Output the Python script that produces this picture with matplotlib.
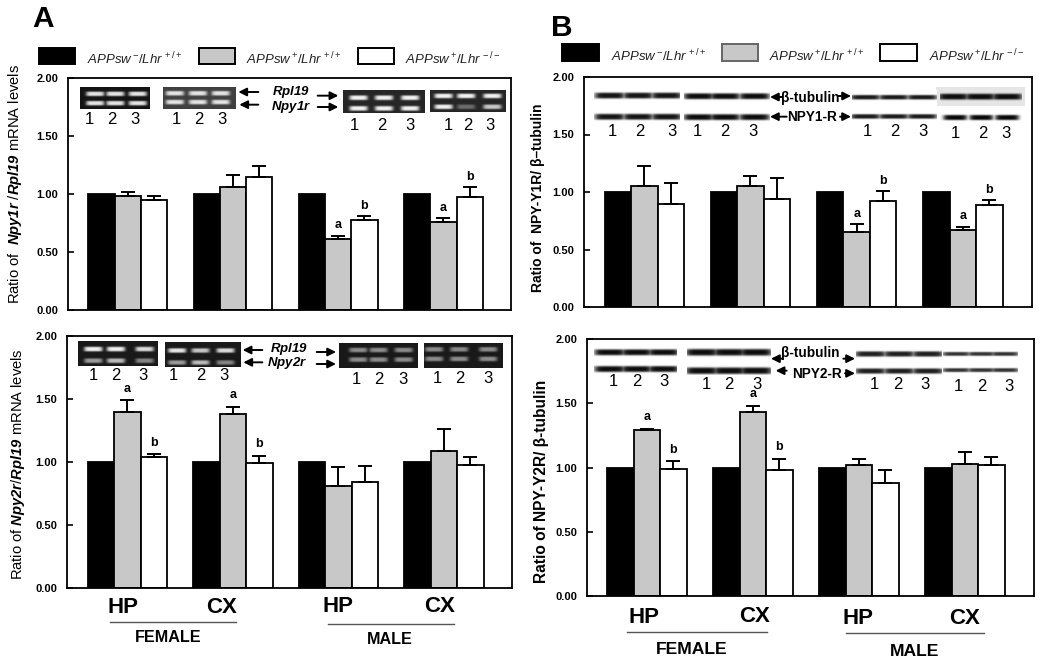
from __future__ import annotations

import matplotlib

matplotlib.use("Agg")
import matplotlib.pyplot as plt
import numpy as np
from matplotlib.patches import Rectangle

plt.rcParams["font.family"] = ["Liberation Sans", "DejaVu Sans"]
plt.rcParams["mathtext.fontset"] = "custom"
plt.rcParams["mathtext.rm"] = "Liberation Sans"
plt.rcParams["mathtext.it"] = "Liberation Sans:italic"
plt.rcParams["mathtext.bf"] = "Liberation Sans:bold"
plt.rcParams["mathtext.bfit"] = "Liberation Sans:italic:bold"

W, H = 1050, 669
GRAY = "#c8c8c8"

regions = ["HP", "CX", "HP", "CX"]

a1_gray = [0.98, 1.06, 0.61, 0.76]
a1_white = [0.95, 1.15, 0.78, 0.97]
a1_gray_err = [0.04, 0.10, 0.03, 0.03]
a1_white_err = [0.03, 0.09, 0.03, 0.09]
a1_marks = [("", ""), ("", ""), ("a", "b"), ("a", "b")]

a2_gray = [1.40, 1.38, 0.81, 1.09]
a2_white = [1.04, 0.99, 0.84, 0.98]
a2_gray_err = [0.09, 0.06, 0.15, 0.17]
a2_white_err = [0.02, 0.06, 0.13, 0.06]
a2_marks = [("a", "b"), ("a", "b"), ("", ""), ("", "")]

b1_gray = [1.05, 1.05, 0.65, 0.67]
b1_white = [0.90, 0.94, 0.92, 0.89]
b1_gray_err = [0.18, 0.09, 0.07, 0.03]
b1_white_err = [0.18, 0.18, 0.09, 0.04]
b1_marks = [("", ""), ("", ""), ("a", "b"), ("a", "b")]

b2_gray = [1.29, 1.43, 1.02, 1.03]
b2_white = [0.99, 0.98, 0.88, 1.02]
b2_gray_err = [0.01, 0.05, 0.05, 0.09]
b2_white_err = [0.06, 0.09, 0.10, 0.06]
b2_marks = [("a", "b"), ("a", "b"), ("", ""), ("", "")]

control = [1.0, 1.0, 1.0, 1.0]
y_ticks = [0.0, 0.5, 1.0, 1.5, 2.0]

fig = plt.figure(figsize=(W / 100, H / 100), dpi=100)


def panel(box, first_bar, step, width, gray, white, gray_err, white_err, marks):
    left, top, right, bottom = box
    ax = fig.add_axes([left / W, 1 - bottom / H, (right - left) / W, (bottom - top) / H])
    centre = first_bar + 1.5 * width
    ax.set_xlim((left - centre) / step, (right - centre) / step)
    ax.set_ylim(0, 2)
    w = width / step
    x = np.arange(len(gray))
    ax.bar(x - w, control, w, color="black", edgecolor="black", linewidth=1.3)
    ax.bar(x, gray, w, color=GRAY, edgecolor="black", linewidth=1.3)
    ax.bar(x + w, white, w, color="white", edgecolor="black", linewidth=1.3)
    for offset, vals, errs in [(0, gray, gray_err), (w, white, white_err)]:
        ax.errorbar(x + offset, vals, yerr=[np.zeros(len(vals)), errs], fmt="none",
                    ecolor="black", elinewidth=1.4, capsize=5, capthick=1.4)
    for i, (m1, m2) in enumerate(marks):
        if m1:
            ax.text(i, gray[i] + gray_err[i] + 0.09, m1, ha="center", va="center",
                    fontsize=9, fontweight="bold")
        if m2:
            ax.text(i + w, white[i] + white_err[i] + 0.09, m2, ha="center", va="center",
                    fontsize=9, fontweight="bold")
    ax.set_xticks([])
    ax.set_yticks(y_ticks)
    ax.set_yticklabels([f"{t:.2f}" for t in y_ticks], fontsize=8, fontweight="bold")
    ax.tick_params(axis="y", direction="in", length=4, width=1.2, pad=7)
    for spine in ax.spines.values():
        spine.set_linewidth(1.3)
    return ax


panel((68, 78, 511, 310), 88.3, 105.2, 26.3, a1_gray, a1_white, a1_gray_err, a1_white_err, a1_marks)
panel((67, 336, 512, 588), 87.5, 105.5, 26.5, a2_gray, a2_white, a2_gray_err, a2_white_err, a2_marks)
panel((584, 77, 1032, 307), 604.5, 106.2, 26.5, b1_gray, b1_white, b1_gray_err, b1_white_err, b1_marks)
panel((587, 339, 1034, 596), 607, 106, 26.5, b2_gray, b2_white, b2_gray_err, b2_white_err, b2_marks)

# overlay in image pixels for legends, gels and group labels
ov = fig.add_axes([0, 0, 1, 1], facecolor="none")
ov.set_xlim(0, W)
ov.set_ylim(H, 0)
ov.axis("off")


def gel(ox, oy, box, lanes, rows, bg, ink, lane_w=55, thick=7, levels=None):
    # box and lanes are in the 3x crop coordinates
    x0, y0, x1, y1 = box
    xs = np.arange(x0, x1, 1.0)
    ys = np.arange(y0, y1, 1.0)
    img = np.zeros((len(ys), len(xs)))
    for r, row in enumerate(rows):
        prof_y = np.exp(-(((ys - row) / thick) ** 4))
        for l, lane in enumerate(lanes):
            prof_x = np.exp(-(((xs - lane) / (lane_w / 2)) ** 6))
            level = 1.0 if levels is None else levels[r][l]
            img = np.maximum(img, level * np.outer(prof_y, prof_x))
    ov.imshow(bg + (ink - bg) * img, cmap="gray", vmin=0, vmax=1, aspect="auto", zorder=3,
              extent=(ox + x0 / 3, ox + x1 / 3, oy + y1 / 3, oy + y0 / 3), interpolation="bilinear")


def lane_numbers(ox, oy, xs, y, size=12):
    for label, x in zip("123", xs):
        ov.text(ox + x / 3, oy + y / 3, label, ha="center", va="center", fontsize=size, zorder=4)


def arrow(ox, oy, x0, x1, y, lw=1.4):
    ov.annotate("", xy=(ox + x1 / 3, oy + y / 3), xytext=(ox + x0 / 3, oy + y / 3), zorder=4,
                arrowprops=dict(arrowstyle="-|>", color="black", lw=lw, mutation_scale=12,
                                shrinkA=0, shrinkB=0))


def legend(ox, oy, boxes, texts, top, bottom, text_y, gray_edge):
    fills = ["black", GRAY, "white"]
    edges = ["black", gray_edge, "black"]
    for (x0, x1), tx, label, fc, ec in zip(boxes, texts, legend_labels, fills, edges):
        ov.add_patch(Rectangle((ox + x0 / 3, oy + top / 3), (x1 - x0) / 3, (bottom - top) / 3,
                               facecolor=fc, edgecolor=ec, linewidth=1.4, zorder=3))
        ov.text(ox + tx / 3, oy + text_y / 3, label, ha="left", va="center", fontsize=9.5,
                color="#222222", zorder=4)


def groups(ox, oy, labels_x, labels_y, lines, line_y, sex_x, sex_y, sex_size=11.6):
    for x, y, label in zip(labels_x, labels_y, regions):
        ov.text(ox + x / 3, oy + y / 3, label, ha="center", va="center", fontsize=16,
                fontweight="bold", zorder=4)
    for (x0, x1), y in zip(lines, line_y):
        ov.plot([ox + x0 / 3, ox + x1 / 3], [oy + y / 3, oy + y / 3], color="#555555", lw=1.0, zorder=4)
    for x, y, label in zip(sex_x, sex_y, ["FEMALE", "MALE"]):
        ov.text(ox + x / 3, oy + y / 3, label, ha="center", va="center", fontsize=sex_size,
                fontweight="bold", zorder=4)


legend_labels = [
    r"$\mathit{APPsw}\,^{-}/\mathit{Lhr}^{\,+/+}$",
    r"$\mathit{APPsw}\,^{+}/\mathit{Lhr}^{\,+/+}$",
    r"$\mathit{APPsw}\,^{+}/\mathit{Lhr}^{\,-/-}$",
]

# panel A, top
ov.text(43, 19, "A", ha="center", va="center", fontsize=21.5, fontweight="bold")
legend(0, 0, [(118, 225), (596, 704), (1074, 1182)], [260, 738, 1216], 143, 191, 176, "black")
ov.text(15, 184, r"$\mathrm{Ratio\ of}\ \ \mathbfit{Npy1r}\ /\mathbfit{Rpl19}\ \mathrm{mRNA\ levels}$",
        rotation=90, ha="center", va="center", fontsize=10.6)
gel(0, 0, (240, 262, 449, 328), [285, 345, 412], [282, 310], 0.08, 0.9)
gel(0, 0, (488, 262, 706, 327), [523, 592, 660], [280, 306], 0.25, 0.9)
gel(0, 0, (1030, 271, 1275, 338), [1076, 1152, 1230], [293, 324], 0.15, 0.95)
gel(0, 0, (1290, 271, 1516, 336), [1330, 1397, 1475], [288, 320], 0.15, 0.95,
    levels=[[1, 1, 1], [1, 0.35, 0.8]])
lane_numbers(0, 0, [267, 335, 404], 358)
lane_numbers(0, 0, [530, 597, 667], 357)
lane_numbers(0, 0, [1063, 1146, 1229], 375)
lane_numbers(0, 0, [1346, 1402, 1470], 378)
arrow(0, 0, 775, 715, 276)
arrow(0, 0, 775, 718, 314)
arrow(0, 0, 953, 1015, 287)
arrow(0, 0, 953, 1015, 321)
ov.text(873 / 3, 276 / 3, r"$\mathbfit{Rpl19}$", ha="center", va="center", fontsize=9.5, zorder=4)
ov.text(873 / 3, 322 / 3, r"$\mathbfit{Npy1r}$", ha="center", va="center", fontsize=9.5, zorder=4)

# panel A, bottom
ov.text(18, 330 + 403 / 3, r"$\mathrm{Ratio\ of}\ \mathbfit{Npy2r}/\mathbfit{Rpl19}\ \mathrm{mRNA\ levels}$",
        rotation=90, ha="center", va="center", fontsize=10.6)
gel(0, 330, (235, 35, 472, 108), [280, 347, 432], [58, 92], 0.1, 0.95,
    levels=[[1, 1, 0.9], [0.6, 0.75, 0.5]])
gel(0, 330, (494, 35, 722, 110), [530, 600, 675], [60, 96], 0.1, 0.95,
    levels=[[0.95, 0.8, 0.9], [0.6, 0.75, 0.5]])
gel(0, 330, (1018, 40, 1253, 113), [1075, 1135, 1210], [60, 88], 0.1, 0.55)
gel(0, 330, (1273, 40, 1510, 113), [1303, 1378, 1465], [58, 86], 0.1, 0.55)
lane_numbers(0, 330, [279, 347, 430], 135)
lane_numbers(0, 330, [520, 602, 672], 135)
lane_numbers(0, 330, [1069, 1137, 1208], 148)
lane_numbers(0, 330, [1312, 1380, 1463], 146)
arrow(0, 330, 787, 728, 60)
arrow(0, 330, 787, 730, 97)
arrow(0, 330, 950, 1008, 66)
arrow(0, 330, 950, 1008, 102)
ov.text(866 / 3, 330 + 58 / 3, r"$\mathbfit{Rpl19}$", ha="center", va="center", fontsize=9.5, zorder=4)
ov.text(862 / 3, 330 + 99 / 3, r"$\mathbfit{Npy2r}$", ha="center", va="center", fontsize=9.5, zorder=4)
groups(0, 330, [370, 665, 1015, 1320], [832, 832, 830, 830], [(330, 708), (985, 1363)], [876, 882],
       [505, 1168], [922, 928])

# panel B, top
ov.text(525 + 109 / 3, 85 / 3, "B", ha="center", va="center", fontsize=21.5, fontweight="bold")
legend(525, 0, [(112, 221), (590, 698), (1066, 1175)], [257, 733, 1212], 133, 182, 168, "#666666")
ov.text(525 + 38 / 3, 592 / 3, "Ratio of  NPY-Y1R/ β–tubulin", rotation=90, ha="center", va="center",
        fontsize=10, fontweight="bold")
ov.add_patch(Rectangle((525 + 1232 / 3, 262 / 3), 268 / 3, 56 / 3, facecolor="#e6e6e6", edgecolor="none", zorder=3))
gel(525, 0, (208, 270, 466, 365), [255, 340, 425], [286, 349], 1.0, 0.08, lane_w=92, thick=9)
gel(525, 0, (478, 270, 735, 365), [522, 600, 688], [288, 350], 1.0, 0.05, lane_w=92, thick=9)
gel(525, 0, (980, 270, 1235, 365), [1020, 1105, 1190], [291, 348], 1.0, 0.1, lane_w=92, thick=7)
gel(525, 0, (1245, 275, 1490, 310), [1285, 1365, 1445], [291], 0.9, 0.05, lane_w=92, thick=9)
gel(525, 0, (1245, 330, 1490, 375), [1290, 1368, 1445], [352], 1.0, 0.03, lane_w=72, thick=8)
lane_numbers(525, 0, [262, 343, 442], 395)
lane_numbers(525, 0, [518, 600, 685], 395)
lane_numbers(525, 0, [1027, 1110, 1193], 395)
lane_numbers(525, 0, [1290, 1373, 1443], 400)
arrow(525, 0, 772, 735, 291)
arrow(525, 0, 940, 978, 288)
arrow(525, 0, 785, 735, 350)
arrow(525, 0, 945, 978, 350)
ov.text(525 + 857 / 3, 295 / 3, "β-tubulin", ha="center", va="center", fontsize=9.8, fontweight="bold", zorder=4)
ov.text(525 + 862 / 3, 352 / 3, "NPY1-R", ha="center", va="center", fontsize=9.8, fontweight="bold", zorder=4)

# panel B, bottom
ov.text(525 + 50 / 3, 330 + 455 / 3, "Ratio of NPY-Y2R/ β-tubulin", rotation=90, ha="center", va="center",
        fontsize=11.2, fontweight="bold")
gel(525, 330, (208, 50, 456, 135), [255, 335, 415], [68, 117], 1.0, 0.05, lane_w=94, thick=9)
gel(525, 330, (486, 50, 736, 135), [530, 612, 690], [68, 122], 1.0, 0.05, lane_w=98, thick=10)
gel(525, 330, (992, 55, 1248, 140), [1035, 1120, 1205], [72, 122], 1.0, 0.12, lane_w=94, thick=8)
gel(525, 330, (1255, 55, 1480, 135), [1295, 1370, 1440], [72, 120], 1.0, 0.2, lane_w=86, thick=6)
lane_numbers(525, 330, [266, 335, 418], 155)
lane_numbers(525, 330, [544, 612, 697], 163)
lane_numbers(525, 330, [1047, 1117, 1200], 163)
lane_numbers(525, 330, [1300, 1369, 1453], 170)
arrow(525, 330, 770, 738, 86)
arrow(525, 330, 955, 990, 86)
arrow(525, 330, 785, 752, 122)
arrow(525, 330, 960, 990, 130)
ov.text(525 + 857 / 3, 330 + 68 / 3, "β-tubulin", ha="center", va="center", fontsize=9.8, fontweight="bold", zorder=4)
ov.text(525 + 877 / 3, 330 + 133 / 3, "NPY2-R", ha="center", va="center", fontsize=9.8, fontweight="bold", zorder=4)
groups(525, 330, [358, 688, 1000, 1320], [862, 860, 864, 864], [(305, 725), (963, 1377)], [907, 910],
       [500, 1168], [958, 965], sex_size=12.6)

ov.set_xlim(0, W)
ov.set_ylim(H, 0)

fig.savefig("out.png", dpi=100)
plt.close(fig)
